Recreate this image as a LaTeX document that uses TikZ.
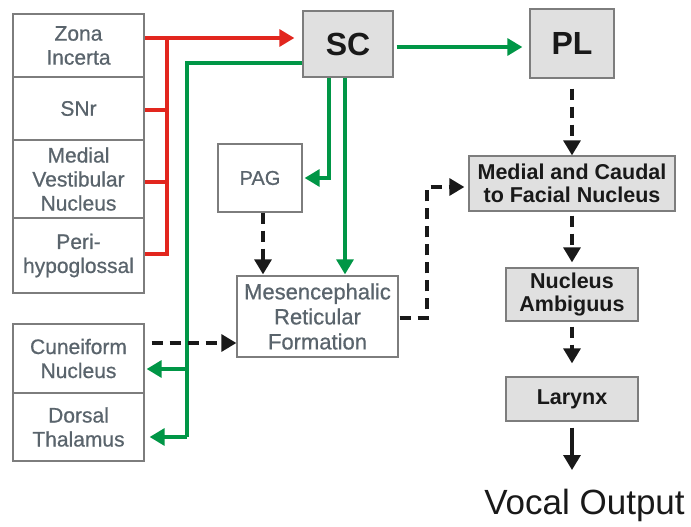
\documentclass[tikz,border=0pt]{standalone}
\usepackage{fontspec}
\setmainfont{Liberation Sans}
\newfontfamily\grayfont[FakeBold=0.7]{Liberation Sans}
\usetikzlibrary{arrows.meta}
\definecolor{tgray}{RGB}{90,100,108}
\definecolor{bord}{RGB}{125,125,125}
\definecolor{bfill}{RGB}{224,224,224}
\definecolor{rline}{RGB}{226,38,30}
\definecolor{gline}{RGB}{0,150,70}
\definecolor{tblack}{RGB}{25,25,25}
\begin{document}
\begin{tikzpicture}[x=1pt,y=-1pt,
  box/.style={draw=bord, line width=1.3pt, inner sep=0pt, align=center,
    font=\grayfont\fontsize{21}{24}\selectfont, text=tgray},
  lbox/.style={box, minimum width=131pt},
  gbox/.style={box, fill=bfill, text=tblack, font=\bfseries\fontsize{21.5}{23.5}\selectfont},
  tip/.style={-{Triangle[length=15pt,width=17pt]}},
  rl/.style={draw=rline, line width=3.2pt},
  gl/.style={draw=gline, line width=3.2pt},
  dl/.style={draw=tblack, line width=3.2pt, dash pattern=on 11pt off 7pt},
  sl/.style={draw=tblack, line width=3.2pt}
]
\fill[white] (0,0) rectangle (691,527);
\useasboundingbox (0,0) rectangle (691,527);

% left column
\node[lbox, minimum height=63pt] (zona) at (78.5,45.5) {Zona\\Incerta};
\node[lbox, minimum height=63pt] (snr) at (78.5,108.5) {SNr};
\node[lbox, minimum height=78pt] (mvn) at (78.5,179) {Medial\\Vestibular\\Nucleus};
\node[lbox, minimum height=75pt] (peri) at (78.5,255.5) {Peri-\\hypoglossal};
\node[lbox, minimum height=69pt] (cun) at (78.5,358.5) {Cuneiform\\Nucleus};
\node[lbox, minimum height=68pt] (dth) at (78.5,427) {Dorsal\\Thalamus};

% centre and right
\node[gbox, minimum width=90pt, minimum height=66pt, font=\bfseries\fontsize{32}{36}\selectfont] (sc) at (348,44) {SC};
\node[gbox, minimum width=84pt, minimum height=69pt, font=\bfseries\fontsize{32}{36}\selectfont] (pl) at (572,43.5) {PL};
\node[box, minimum width=84pt, minimum height=68pt, font=\grayfont\fontsize{20}{24}\selectfont] (pag) at (260,178) {PAG};
\node[box, minimum width=161pt, minimum height=81pt, font=\grayfont\fontsize{22}{25}\selectfont] (mrf) at (317.5,316.5) {Mesencephalic\\Reticular\\Formation};
\node[gbox, minimum width=206pt, minimum height=55pt] (mcf) at (572,183.5) {Medial and Caudal\\to Facial Nucleus};
\node[gbox, minimum width=132pt, minimum height=53pt] (na) at (572,294.5) {Nucleus\\Ambiguus};
\node[gbox, minimum width=132pt, minimum height=44pt] (lar) at (572,399) {Larynx};
\node[anchor=base, inner sep=0pt, font=\fontsize{35}{40}\selectfont, text=tblack] (vo) at (584.5,514) {Vocal Output};

% red connectors
\coordinate (rb) at (167,38);
\coordinate (rs) at (167,110);
\coordinate (rm) at (167,182);
\coordinate (rp) at (167,254);
\draw[rl, tip, shorten >=8pt] (zona.east |- rb) -- (sc.west |- rb);
\draw[rl] (rb) -- (rp) -- (rp -| peri.east);
\draw[rl] (rs) -- (rs -| snr.east);
\draw[rl] (rm) -- (rm -| mvn.east);

% green connectors
\coordinate (g0) at (187,63);
\coordinate (g1) at (187,437);
\coordinate (g2) at (187,369);
\draw[gl] (sc.west |- g0) -- (g0) -- (g1);
\draw[gl, tip, shorten >=5pt] (g1) -- (g1 -| dth.east);
\draw[gl, tip, shorten >=2pt] (g2) -- (g2 -| cun.east);
\coordinate (sp) at (450,47);
\draw[gl, tip, shorten <=3pt, shorten >=7pt] (sc.east |- sp) -- (pl.west |- sp);
\coordinate (sl) at (329,178);
\draw[gl, tip, shorten >=2pt] (sc.south -| sl) |- (pag.east);
\coordinate (sr) at (345,200);
\draw[gl, tip, shorten >=1pt] (sc.south -| sr) -- (mrf.north -| sr);

% black dashed connectors
\coordinate (pd) at (263,250);
\draw[dl, tip, shorten >=1pt] (pag.south -| pd) -- (mrf.north -| pd);
\coordinate (cd) at (200,343);
\draw[dl, tip, shorten <=7pt] (cun.east |- cd) -- (mrf.west |- cd);
\coordinate (km) at (427,318);
\coordinate (kt) at (427,187);
\draw[dl, tip, shorten <=1pt, shorten >=4pt] (mrf.east |- km) -- (km) -- (kt) -- (mcf.west |- kt);
\draw[dl, tip, shorten <=10pt] (pl.south) -- (mcf.north);
\draw[dl, tip, shorten <=4pt, shorten >=5pt] (mcf.south) -- (na.north);
\draw[dl, tip, shorten <=5pt, shorten >=13pt] (na.south) -- (lar.north);
\coordinate (ve) at (572,470);
\draw[sl, tip, shorten <=6pt] (lar.south) -- (ve);
\end{tikzpicture}
\end{document}
